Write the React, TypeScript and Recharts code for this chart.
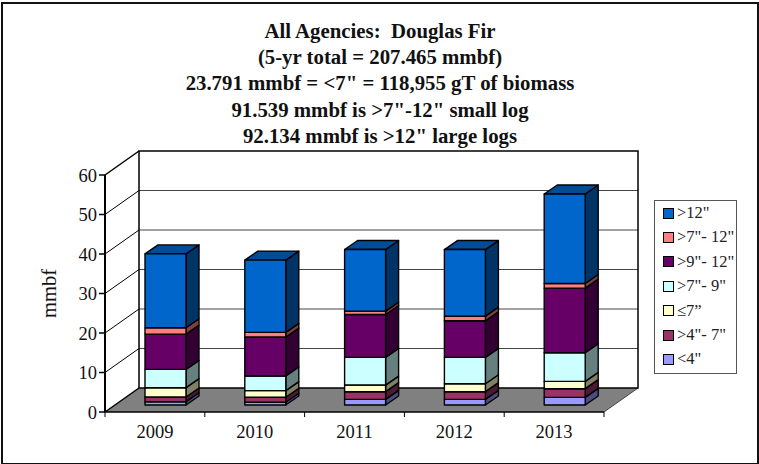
import React from "react";
import { BarChart, Bar, XAxis, YAxis, CartesianGrid, Legend, ReferenceArea } from "recharts";

const years = ["2009", "2010", "2011", "2012", "2013"];

// values, mmbf
const lt4 = [0.84, 0.7, 1.43, 1.43, 1.94];
const gt4to7 = [1.18, 1.26, 1.94, 1.94, 2.19];
const le7 = [2.36, 1.68, 1.68, 2.02, 1.85];
const gt7to9 = [4.64, 3.7, 7.0, 6.66, 7.25];
const gt9to12 = [8.93, 9.86, 10.87, 9.27, 16.35];
const gt7to12 = [1.6, 1.18, 0.84, 1.18, 1.18];
const gt12 = [18.7, 18.3, 15.6, 16.85, 22.66];

const yTicks = [0, 10, 20, 30, 40, 50, 60];

const titleLines = [
  "All Agencies:  Douglas Fir",
  "(5-yr total = 207.465 mmbf)",
  '23.791 mmbf = <7" = 118,955 gT of biomass',
  '91.539 mmbf is >7"-12" small log',
  '92.134 mmbf is >12" large logs',
];

const series = [
  { key: "lt4", name: '<4"', values: lt4, fill: "#9999FF", side: "#4C4C80" },
  { key: "gt4to7", name: '>4"- 7"', values: gt4to7, fill: "#993366", side: "#4C1A33" },
  { key: "le7", name: "≤7”", values: le7, fill: "#FFFFCC", side: "#808066" },
  { key: "gt7to9", name: '>7"- 9"', values: gt7to9, fill: "#CCFFFF", side: "#668080" },
  { key: "gt9to12", name: '>9"- 12"', values: gt9to12, fill: "#660066", side: "#330033" },
  { key: "gt7to12", name: '>7"- 12"', values: gt7to12, fill: "#FF8080", side: "#804040" },
  { key: "gt12", name: '>12"', values: gt12, fill: "#0066CC", side: "#003366" },
];

const data = years.map((year, i) => {
  const row: Record<string, string | number> = { year };
  series.forEach((s) => {
    row[s.key] = s.values[i];
  });
  return row;
});

// 3D look: wall depth, and where the bars sit on the floor
const WALL_DX = 34;
const WALL_DY = 24;
const BAR_DX = 11;
const BAR_DY = 7;
const BAR_DEPTH_X = 13;
const BAR_DEPTH_Y = 9;
const BAND = 99.8;

function bar3d(side: string, top: string | null) {
  return (props: any) => {
    const x = props.x + BAR_DX;
    const y = props.y - BAR_DY;
    const w = props.width;
    const h = props.height;
    const line = { stroke: "#000", strokeWidth: 1.4, strokeLinejoin: "round" as const };
    return (
      <g>
        <polygon
          points={`${x + w},${y} ${x + w + BAR_DEPTH_X},${y - BAR_DEPTH_Y} ${x + w + BAR_DEPTH_X},${y + h - BAR_DEPTH_Y} ${x + w},${y + h}`}
          fill={side}
          {...line}
        />
        {top && (
          <polygon
            points={`${x},${y} ${x + BAR_DEPTH_X},${y - BAR_DEPTH_Y} ${x + w + BAR_DEPTH_X},${y - BAR_DEPTH_Y} ${x + w},${y}`}
            fill={top}
            {...line}
          />
        )}
        <rect x={x} y={y} width={w} height={h} fill={props.fill} {...line} />
      </g>
    );
  };
}

function Walls(props: any) {
  const { x, y, width, height } = props;
  const bottom = y + height;
  const backL = x + WALL_DX;
  const backR = x + width + WALL_DX;
  return (
    <g>
      <polygon
        points={`${x},${bottom} ${x + width},${bottom} ${backR},${bottom - WALL_DY} ${backL},${bottom - WALL_DY}`}
        fill="#808080"
      />
      <line x1={x} y1={y} x2={backL} y2={y - WALL_DY} stroke="#000" strokeWidth={1.5} />
      <line x1={x} y1={bottom} x2={backL} y2={bottom - WALL_DY} stroke="#000" strokeWidth={1.5} />
      <line x1={x + width} y1={bottom} x2={backR} y2={bottom - WALL_DY} stroke="#444" strokeWidth={1} />
      <rect x={backL} y={y - WALL_DY} width={width} height={height} fill="none" stroke="#000" strokeWidth={1.5} />
    </g>
  );
}

function gridLine(props: any) {
  const { x1, x2, y1, index } = props;
  if (y1 <= 176 || y1 >= 411) return <g key={index} />;
  return (
    <g key={index}>
      <line x1={x1} y1={y1} x2={x1 + WALL_DX} y2={y1 - WALL_DY} stroke="#000" strokeWidth={1} />
      <line x1={x1 + WALL_DX} y1={y1 - WALL_DY} x2={x2 + WALL_DX} y2={y1 - WALL_DY} stroke="#444" strokeWidth={1} />
    </g>
  );
}

function YearTick(props: any) {
  const { x, y, payload, index } = props;
  return (
    <g>
      {index === 0 && <line x1={x - BAND / 2} y1={y - 8} x2={x - BAND / 2} y2={y - 3} stroke="#000" />}
      <line x1={x + BAND / 2} y1={y - 8} x2={x + BAND / 2} y2={y - 3} stroke="#000" />
      <text x={x} y={y + 18} textAnchor="middle" fontSize={18.5} fill="#111">
        {payload.value}
      </text>
    </g>
  );
}

function LegendBox({ payload }: any) {
  const items = [...(payload || [])].reverse();
  return (
    <div
      style={{
        position: "relative",
        width: 83,
        height: 174,
        boxSizing: "border-box",
        border: "1px solid #555",
        background: "#fff",
        fontFamily: "'Liberation Serif', serif",
        fontSize: 16.5,
        color: "#222",
      }}
    >
      {items.map((item: any, i: number) => (
        <div key={item.value} style={{ position: "absolute", left: 8, top: 4 + i * 24.4, height: 16, display: "flex", alignItems: "center", whiteSpace: "pre" }}>
          <span style={{ width: 9, height: 9, background: item.color, border: "1.5px solid #000", marginRight: 3 }} />
          {item.value}
        </div>
      ))}
    </div>
  );
}

export default function App() {
  return (
    <div style={{ position: "absolute", left: 0, top: 0, width: 759, height: 464, background: "#fff", overflow: "hidden" }}>
      <BarChart
        width={759}
        height={464}
        data={data}
        margin={{ top: 175, right: 155, bottom: 0, left: 45 }}
        style={{ fontFamily: "'Liberation Serif', serif" }}
      >
        <ReferenceArea y1={0} y2={60} shape={Walls} ifOverflow="visible" />
        <CartesianGrid vertical={false} horizontal={gridLine} />
        <XAxis dataKey="year" height={52} axisLine={{ stroke: "#000", strokeWidth: 1.5 }} tickLine={false} tick={YearTick} interval={0} />
        <YAxis
          domain={[0, 60]}
          ticks={yTicks}
          width={60}
          interval={0}
          axisLine={{ stroke: "#000", strokeWidth: 2 }}
          tickLine={{ stroke: "#000", strokeWidth: 1.5 }}
          tick={{ fontSize: 18.5, fill: "#111" }}
          label={{ value: "mmbf", angle: -90, position: "insideLeft", offset: 4, style: { fontSize: 20.5, fill: "#111", textAnchor: "middle" } }}
        />
        <Legend
          layout="vertical"
          align="center"
          verticalAlign="middle"
          itemSorter={null}
          content={<LegendBox />}
          wrapperStyle={{ left: 654, top: 200, width: 83, height: 174 }}
        />
        {series.map((s, i) => (
          <Bar
            key={s.key}
            dataKey={s.key}
            name={s.name}
            stackId="a"
            fill={s.fill}
            barSize={41}
            isAnimationActive={false}
            shape={bar3d(s.side, i === series.length - 1 ? "#004C99" : null)}
          />
        ))}
      </BarChart>
      <div style={{ position: "absolute", left: 1, top: 2, width: 754, height: 459, border: "2px solid #111", pointerEvents: "none" }} />
      <div
        style={{
          position: "absolute",
          left: 0,
          top: 18,
          width: 760,
          textAlign: "center",
          fontFamily: "'Liberation Serif', serif",
          fontWeight: "bold",
          fontSize: 20.8,
          lineHeight: "26.2px",
          color: "#111",
          whiteSpace: "pre",
        }}
      >
        {titleLines.map((t) => (
          <div key={t}>{t}</div>
        ))}
      </div>
    </div>
  );
}
